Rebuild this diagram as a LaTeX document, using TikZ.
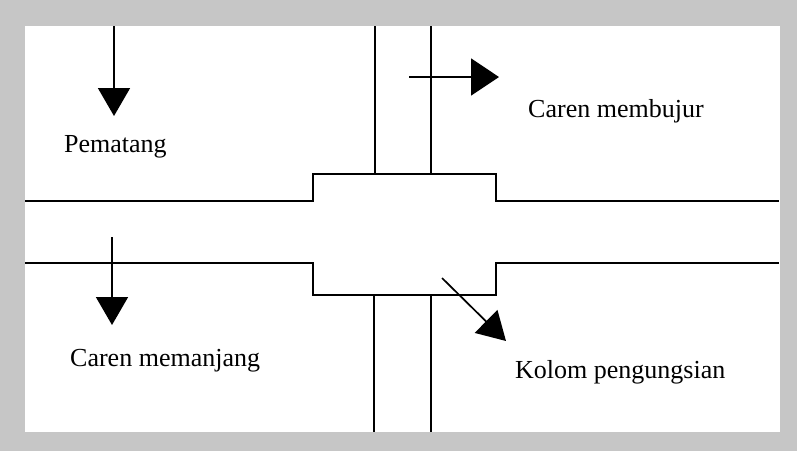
\documentclass[tikz,border=0pt]{standalone}
\usepackage{fontspec}
\setmainfont{Liberation Serif}
\usetikzlibrary{arrows.meta}
\begin{document}
\begin{tikzpicture}[x=1pt,y=-1pt,
  wall/.style={line width=1.7pt,black},
  flow/.style={line width=1.7pt,black,-{Triangle[length=28pt,width=32pt]}},
  lbl/.style={anchor=base west,inner sep=0pt,font=\fontsize{26}{30}\selectfont}]
\useasboundingbox (0,0) rectangle (797,451);
\fill[gray!45] (0,0) rectangle (797,451);
\fill[white] (25,26) rectangle (780,432);
% channels and central pool
\draw[wall] (25,201) -- (313,201) -- (313,174) -- (496,174) -- (496,201) -- (779,201);
\draw[wall] (25,263) -- (313,263) -- (313,295) -- (496,295) -- (496,263) -- (779,263);
\draw[wall] (375,26) -- (375,174);
\draw[wall] (431,26) -- (431,174);
\draw[wall] (374,295) -- (374,432);
\draw[wall] (431,295) -- (431,432);
% arrow coordinates
\coordinate (a1s) at (114,26);  \coordinate (a1e) at (114,116);
\coordinate (a2s) at (112,237); \coordinate (a2e) at (112,325);
\coordinate (a3s) at (409,77);  \coordinate (a3e) at (499,77);
\coordinate (a4s) at (442,278); \coordinate (a4e) at (506,341);
\draw[flow] (a1s) -- (a1e);
\draw[flow] (a2s) -- (a2e);
\draw[line width=1.7pt,black,-{Triangle[length=28pt,width=37pt]}] (a3s) -- (a3e);
\draw[flow] (a4s) -- (a4e);
% labels
\node[lbl] (pematang) at (64,152) {Pematang};
\node[lbl] (membujur) at (528,117) {Caren membujur};
\node[lbl] (memanjang) at (70,366) {Caren memanjang};
\node[lbl] (kolom) at (515,378) {Kolom pengungsian};
\end{tikzpicture}
\end{document}
